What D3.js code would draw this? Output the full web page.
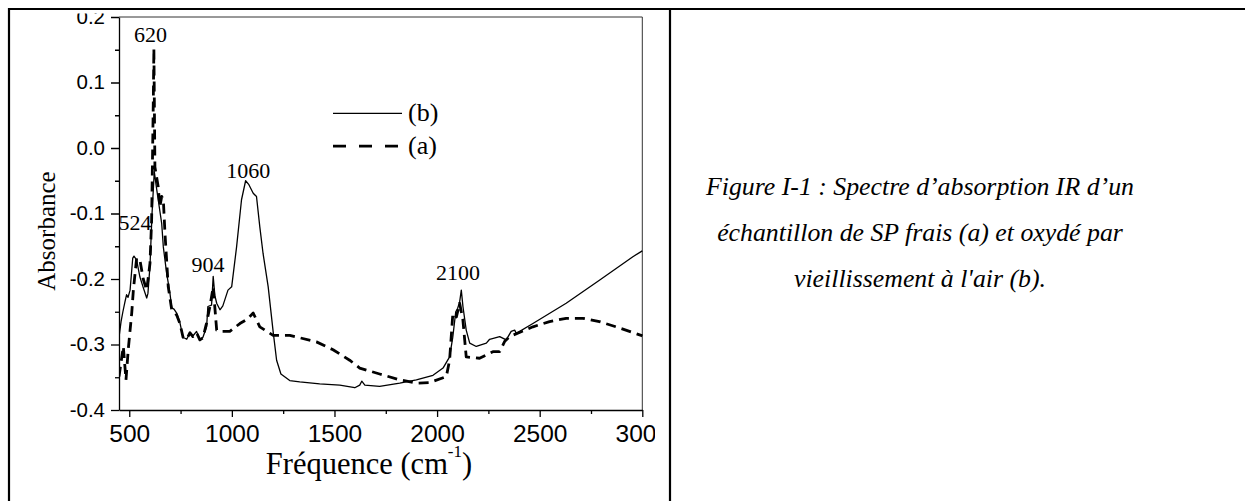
<!DOCTYPE html>
<html>
<head>
<meta charset="utf-8">
<script src="https://cdn.jsdelivr.net/npm/d3@7"></script>
<style>
  html, body { margin: 0; padding: 0; background: #fff; }
  svg { display: block; }
</style>
</head>
<body>
<svg id="chart" width="1245" height="501"></svg>
<script>
// ---------------- DATA ----------------
// Series (b): oxidised sample (solid line)
const wavenumberB = [450, 460, 469, 479, 487, 494, 504, 517, 523, 536, 552, 567, 585, 591, 601, 611, 622, 630, 641, 658, 666, 682, 698, 707, 718, 731, 747, 762, 780, 796, 810, 828, 844, 859, 877, 883, 901, 909, 917, 926, 942, 956, 981, 999, 1023, 1047, 1067, 1083, 1104, 1120, 1136, 1152, 1177, 1201, 1218, 1239, 1282, 1331, 1428, 1526, 1599, 1623, 1633, 1648, 1720, 1818, 1899, 1980, 2029, 2061, 2076, 2091, 2100, 2110, 2118, 2126, 2142, 2159, 2191, 2240, 2256, 2305, 2337, 2361, 2378, 2386, 2467, 2629, 2791, 2954, 3000];
const absorbanceB = [-0.289, -0.265, -0.25, -0.235, -0.224, -0.228, -0.217, -0.168, -0.165, -0.171, -0.197, -0.212, -0.229, -0.222, -0.18, -0.1, -0.036, -0.055, -0.079, -0.115, -0.151, -0.191, -0.221, -0.244, -0.246, -0.252, -0.267, -0.289, -0.292, -0.282, -0.287, -0.28, -0.293, -0.289, -0.273, -0.242, -0.24, -0.196, -0.225, -0.237, -0.247, -0.241, -0.217, -0.212, -0.151, -0.079, -0.05, -0.056, -0.069, -0.074, -0.12, -0.161, -0.212, -0.28, -0.324, -0.345, -0.355, -0.357, -0.36, -0.362, -0.366, -0.362, -0.356, -0.362, -0.364, -0.359, -0.354, -0.347, -0.336, -0.319, -0.29, -0.25, -0.245, -0.235, -0.217, -0.242, -0.278, -0.298, -0.303, -0.298, -0.292, -0.288, -0.293, -0.28, -0.278, -0.283, -0.268, -0.237, -0.202, -0.166, -0.157];

// Series (a): fresh sample (dashed line)
const wavenumberA = [450, 471, 484, 495, 512, 520, 536, 552, 568, 585, 601, 609, 617, 620, 625, 641, 649, 658, 666, 674, 682, 690, 707, 731, 747, 762, 780, 796, 810, 828, 844, 859, 877, 893, 909, 926, 942, 990, 1039, 1072, 1104, 1136, 1201, 1282, 1412, 1493, 1574, 1623, 1720, 1818, 1899, 1964, 2045, 2061, 2077, 2094, 2110, 2126, 2142, 2207, 2272, 2305, 2330, 2353, 2467, 2548, 2629, 2710, 2791, 2872, 2994, 3000];
const absorbanceA = [-0.349, -0.303, -0.354, -0.308, -0.252, -0.217, -0.168, -0.171, -0.2, -0.217, -0.176, -0.11, 0.068, 0.152, -0.029, -0.059, -0.09, -0.074, -0.079, -0.13, -0.171, -0.212, -0.247, -0.255, -0.268, -0.289, -0.292, -0.282, -0.288, -0.282, -0.293, -0.29, -0.267, -0.242, -0.212, -0.278, -0.28, -0.28, -0.268, -0.262, -0.252, -0.273, -0.286, -0.286, -0.296, -0.308, -0.324, -0.336, -0.345, -0.354, -0.359, -0.358, -0.349, -0.324, -0.252, -0.258, -0.237, -0.263, -0.319, -0.321, -0.311, -0.311, -0.295, -0.288, -0.273, -0.265, -0.26, -0.26, -0.265, -0.273, -0.286, -0.287];

// Axis ticks
const xMajorTicks = [500, 1000, 1500, 2000, 2500, 3000];
const xMinorTicks = [750, 1250, 1750, 2250, 2750];
const yMajorTicks = [-0.4, -0.3, -0.2, -0.1, 0.0, 0.1, 0.2];
const yMinorTicks = [-0.35, -0.25, -0.15, -0.05, 0.05, 0.15];

// Peak annotations (text, wavenumber, absorbance of label baseline)
const peakTexts = ["620", "524", "904", "1060", "2100"];
const peakWn    = [603, 528, 884, 1080, 2102];
const peakAbs   = [0.162, -0.125, -0.189, -0.046, -0.2015];

// Legend
const legendNames = ["(b)", "(a)"];
const legendAbs = [0.053, 0.003];

const captionLines = [
  "Figure I-1 : Spectre d’absorption IR d’un",
  "échantillon de SP frais (a) et oxydé par",
  "vieillissement à l'air (b)."
];

// ---------------- DRAW ----------------
const svg = d3.select("#chart");
const serif = "'Liberation Serif', 'Times New Roman', serif";
const sans = "'Liberation Sans', Arial, sans-serif";

const x = d3.scaleLinear().domain([450, 3000]).range([119, 642.3]);
const y = d3.scaleLinear().domain([-0.4, 0.2]).range([410, 17]);

svg.append("defs").append("clipPath").attr("id", "cellClip")
  .append("rect").attr("x", 10).attr("y", 13.5).attr("width", 645).attr("height", 489);
svg.append("defs").append("clipPath").attr("id", "plotClip")
  .append("rect").attr("x", 119).attr("y", 10).attr("width", 524).attr("height", 402);

const cell = svg.append("g").attr("clip-path", "url(#cellClip)");

// frame top/right
cell.append("line").attr("x1", x(450)).attr("x2", x(3000)).attr("y1", y(0.2)).attr("y2", y(0.2))
  .attr("stroke", "#333").attr("stroke-width", 1);
cell.append("line").attr("x1", x(3000)).attr("x2", x(3000)).attr("y1", y(0.2)).attr("y2", y(-0.4))
  .attr("stroke", "#333").attr("stroke-width", 1);

// x axis
const xAxis = cell.append("g").attr("transform", `translate(0,${y(-0.4)})`)
  .call(d3.axisBottom(x).tickValues(xMajorTicks).tickSize(7).tickSizeOuter(0).tickPadding(8)
    .tickFormat(d => String(d)));
cell.append("g").attr("transform", `translate(0,${y(-0.4)})`)
  .call(d3.axisBottom(x).tickValues(xMinorTicks).tickSize(4).tickSizeOuter(0).tickFormat(""))
  .select(".domain").remove();
xAxis.selectAll("text").attr("font-family", sans).attr("font-size", 24.5).attr("fill", "#000");

// y axis
const yAxis = cell.append("g").attr("transform", `translate(${x(450)},0)`)
  .call(d3.axisLeft(y).tickValues(yMajorTicks).tickSize(8).tickSizeOuter(0).tickPadding(6)
    .tickFormat(d => d.toFixed(1)));
cell.append("g").attr("transform", `translate(${x(450)},0)`)
  .call(d3.axisLeft(y).tickValues(yMinorTicks).tickSize(4).tickSizeOuter(0).tickFormat(""))
  .select(".domain").remove();
yAxis.selectAll("text").attr("font-family", sans).attr("font-size", 20.5).attr("fill", "#000")
  .attr("dy", "0.3em");

cell.selectAll(".domain, .tick line").attr("stroke", "#000").attr("stroke-width", 1.3);

// series
const plot = cell.append("g").attr("clip-path", "url(#plotClip)");
const line = d3.line().x(d => x(d[0])).y(d => y(d[1])).curve(d3.curveLinear);
const dataB = wavenumberB.map((w, i) => [w, absorbanceB[i]]);
const dataA = wavenumberA.map((w, i) => [w, absorbanceA[i]]);

plot.append("path").datum(dataA).attr("d", line)
  .attr("fill", "none").attr("stroke", "#000").attr("stroke-width", 2.8)
  .attr("stroke-dasharray", "10,6").attr("stroke-linejoin", "round");
plot.append("path").datum(dataB).attr("d", line)
  .attr("fill", "none").attr("stroke", "#000").attr("stroke-width", 1.3)
  .attr("stroke-linejoin", "round");

// peak labels
cell.selectAll(".peak").data(peakTexts).enter().append("text")
  .attr("x", (d, i) => x(peakWn[i])).attr("y", (d, i) => y(peakAbs[i]))
  .attr("text-anchor", "middle").attr("font-family", serif).attr("font-size", 22)
  .attr("fill", "#000").text(d => d);

// legend
const lg = cell.selectAll(".lg").data(legendNames).enter().append("g");
lg.append("line").attr("x1", 333).attr("x2", 402)
  .attr("y1", (d, i) => y(legendAbs[i])).attr("y2", (d, i) => y(legendAbs[i]))
  .attr("stroke", "#000")
  .attr("stroke-width", (d, i) => i === 0 ? 1.3 : 2.8)
  .attr("stroke-dasharray", (d, i) => i === 0 ? null : "13,13");
lg.append("text").attr("x", 408).attr("y", (d, i) => y(legendAbs[i]) + 8)
  .attr("font-family", serif).attr("font-size", 26).attr("fill", "#000").text(d => d);

// axis titles
cell.append("text").attr("transform", "translate(55,231) rotate(-90)")
  .attr("text-anchor", "middle").attr("font-family", serif).attr("font-size", 25)
  .attr("fill", "#000").text("Absorbance");

const xt = cell.append("text").attr("x", 369).attr("y", 474).attr("text-anchor", "middle")
  .attr("font-family", serif).attr("font-size", 30.5).attr("fill", "#000");
xt.append("tspan").text("Fréquence (cm");
xt.append("tspan").attr("font-size", 17).attr("dy", -17).text("-1");
xt.append("tspan").attr("dy", 17).text(")");

// table borders
svg.append("line").attr("x1", 8).attr("x2", 1245).attr("y1", 9).attr("y2", 9).attr("stroke", "#000").attr("stroke-width", 2.2);
svg.append("line").attr("x1", 9).attr("x2", 9).attr("y1", 8).attr("y2", 501).attr("stroke", "#000").attr("stroke-width", 2.2);
svg.append("line").attr("x1", 670).attr("x2", 670).attr("y1", 8).attr("y2", 501).attr("stroke", "#000").attr("stroke-width", 2.2);

// caption
svg.selectAll(".cap").data(captionLines).enter().append("text")
  .attr("x", 920).attr("y", (d, i) => 195 + i * 46)
  .attr("text-anchor", "middle").attr("font-family", serif).attr("font-style", "italic")
  .attr("font-size", 25.8).attr("fill", "#000").text(d => d);
</script>
</body>
</html>
